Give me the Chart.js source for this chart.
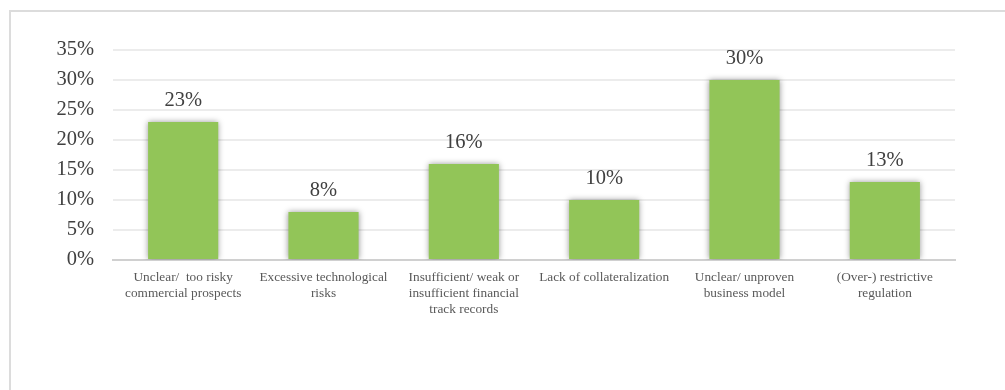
<!DOCTYPE html>
<html>
<head>
<meta charset="utf-8">
<script src="https://cdn.jsdelivr.net/npm/chart.js@4.4.1/dist/chart.umd.min.js"></script>
<style>
  html, body { margin: 0; padding: 0; background: #fff; }
  #wrap { position: absolute; left: 0; top: 0; width: 1005px; height: 390px; }
  #frame { position: absolute; left: 9px; top: 10px; width: 1010px; height: 400px;
           border-left: 2px solid #dcdcdc; border-top: 2px solid #dcdcdc; }
</style>
</head>
<body>
<div id="wrap">
  <div id="frame"></div>
  <canvas id="myChart" width="1005" height="390"></canvas>
</div>
<script>
const categories = [
  ['Unclear/  too risky', 'commercial prospects'],
  ['Excessive technological', 'risks'],
  ['Insufficient/ weak or', 'insufficient financial', 'track records'],
  ['Lack of collateralization'],
  ['Unclear/ unproven', 'business model'],
  ['(Over-) restrictive', 'regulation']
];
const shares = [23, 8, 16, 10, 30, 13];
const yTicks = [0, 5, 10, 15, 20, 25, 30, 35];

const serif = '"Liberation Serif", "Times New Roman", serif';

// soft shadow behind the bars
const barShadow = {
  id: 'barShadow',
  beforeDatasetsDraw(chart) {
    const ctx = chart.ctx;
    ctx.save();
    ctx.shadowColor = 'rgba(0,0,0,0.4)';
    ctx.shadowBlur = 6;
    ctx.shadowOffsetX = 0;
    ctx.shadowOffsetY = 0;
  },
  afterDatasetsDraw(chart) {
    chart.ctx.restore();
  }
};

// percentage above each bar
const valueLabels = {
  id: 'valueLabels',
  afterDatasetsDraw(chart) {
    const ctx = chart.ctx;
    const meta = chart.getDatasetMeta(0);
    ctx.save();
    ctx.font = '20.5px ' + serif;
    ctx.fillStyle = '#404040';
    ctx.textAlign = 'center';
    ctx.textBaseline = 'alphabetic';
    meta.data.forEach((bar, i) => {
      ctx.fillText(shares[i] + '%', bar.x, bar.y - 16);
    });
    ctx.restore();
  }
};

function initChart() {
  const ctx = document.getElementById('myChart');
  return new Chart(ctx, {
    type: 'bar',
    data: {
      labels: categories,
      datasets: [{
        data: shares,
        backgroundColor: '#92c558',
        borderWidth: 0,
        barPercentage: 0.5,
        categoryPercentage: 1.0
      }]
    },
    options: {
      responsive: false,
      animation: false,
      layout: { padding: { top: 50, right: 50, left: 0, bottom: 0 } },
      plugins: { legend: { display: false }, tooltip: { enabled: false } },
      scales: {
        x: {
          grid: { display: false, drawTicks: false },
          border: { color: '#d0d0d0', width: 2 },
          ticks: {
            color: '#595959',
            font: { family: serif, size: 13.3, lineHeight: 1.2 },
            padding: 10,
            maxRotation: 0,
            autoSkip: false
          },
          afterFit(scale) { scale.height = 130; }
        },
        y: {
          min: 0,
          max: 35,
          afterBuildTicks(scale) { scale.ticks = yTicks.map(v => ({ value: v })); },
          grid: { color: '#ececec', lineWidth: 2, drawTicks: false },
          border: { display: false },
          ticks: {
            color: '#404040',
            font: { family: serif, size: 20.5 },
            padding: 19,
            callback: v => v + '%'
          },
          afterFit(scale) { scale.width = 113; }
        }
      }
    },
    plugins: [barShadow, valueLabels]
  });
}

document.addEventListener('DOMContentLoaded', () => initChart());
</script>
</body>
</html>
